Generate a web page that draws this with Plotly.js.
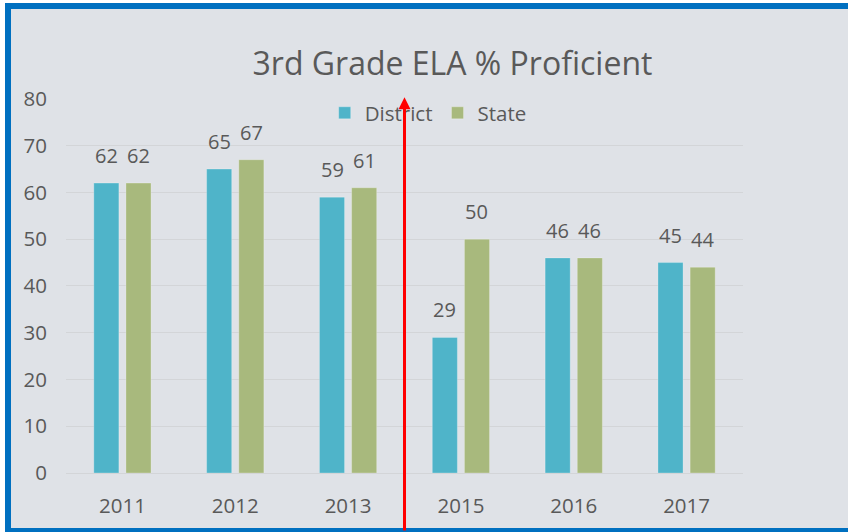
<!DOCTYPE html>
<html>
<head>
<meta charset="utf-8">
<script src="https://cdn.plot.ly/plotly-3.0.1.min.js"></script>
<style>
  html, body { margin: 0; padding: 0; background: #ffffff; width: 848px; height: 532px; overflow: hidden; }
  #frame { position: absolute; left: 5px; top: 3px; width: 843px; height: 529px; background: #0070C0; }
  #inner { position: absolute; left: 11px; top: 9px; width: 837px; height: 519px; background: #DFE2E7; }
  #chart { position: absolute; left: 0; top: 0; width: 848px; height: 532px; }
</style>
</head>
<body>
<div id="frame"></div>
<div id="inner"></div>
<div id="chart"></div>
<script>
const years = ['2011', '2012', '2013', '2015', '2016', '2017'];
const district = [62, 65, 59, 29, 46, 45];
const state = [62, 67, 61, 50, 46, 44];
const yTicks = [0, 10, 20, 30, 40, 50, 60, 70, 80];

const textColor = '#595959';
const font = 'Open Sans, DejaVu Sans, sans-serif';

const traces = [
  {
    type: 'bar', name: 'District', x: years, y: district,
    marker: { color: '#4FB4C9', line: { color: 'rgba(255,255,255,0.25)', width: 1 } },
    hoverinfo: 'none'
  },
  {
    type: 'bar', name: 'State', x: years, y: state,
    marker: { color: '#A8B97D', line: { color: 'rgba(255,255,255,0.25)', width: 1 } },
    hoverinfo: 'none'
  }
];

const labelAnn = [];
years.forEach((yr, i) => {
  labelAnn.push({ x: i, y: district[i], xref: 'x', yref: 'y', text: String(district[i]), showarrow: false,
    xshift: -16, yshift: 12, yanchor: 'bottom', font: { family: font, size: 20, color: textColor } });
  labelAnn.push({ x: i, y: state[i], xref: 'x', yref: 'y', text: String(state[i]), showarrow: false,
    xshift: 16, yshift: 12, yanchor: 'bottom', font: { family: font, size: 20, color: textColor } });
});

// red arrow between 2013 and 2015 (middle of the plot area)
labelAnn.push({
  x: 0.5, y: 1.002, xref: 'paper', yref: 'paper', axref: 'pixel', ayref: 'pixel', ax: 0, ay: 440,
  text: '', showarrow: true, arrowhead: 2, arrowsize: 0.8, arrowwidth: 3, arrowcolor: '#FF0000'
});

const layout = {
  width: 848, height: 532,
  margin: { l: 66, r: 105, t: 98, b: 59 },
  paper_bgcolor: 'rgba(0,0,0,0)',
  plot_bgcolor: 'rgba(0,0,0,0)',
  font: { family: font, color: textColor },
  title: {
    text: '3rd Grade ELA % Proficient',
    font: { family: font, size: 32, color: textColor },
    xref: 'container', yref: 'container', x: 0.5336, y: 0.8805, xanchor: 'center', yanchor: 'middle'
  },
  barmode: 'group', bargap: 0.43, bargroupgap: 0.22,
  showlegend: true,
  legend: {
    orientation: 'h', x: 0.535, xanchor: 'center', y: 0.96, yanchor: 'middle',
    font: { family: font, size: 20.5, color: textColor }, bgcolor: 'rgba(0,0,0,0)'
  },
  xaxis: {
    type: 'category', range: [-0.5, 5.5], autorange: false, showgrid: false, zeroline: false, showline: false, ticks: '',
    tickfont: { family: font, size: 20.5, color: textColor }, ticklabelstandoff: 18
  },
  yaxis: {
    range: [0, 80.2], autorange: false, tickvals: yTicks, showgrid: true, gridcolor: '#D3D5D8', gridwidth: 1,
    zeroline: true, zerolinecolor: '#D3D5D8', zerolinewidth: 1, showline: false, ticks: '',
    tickfont: { family: font, size: 20.5, color: textColor }, ticklabelstandoff: 18
  },
  annotations: labelAnn
};

Plotly.newPlot('chart', traces, layout, { displayModeBar: false, staticPlot: true });
</script>
</body>
</html>
